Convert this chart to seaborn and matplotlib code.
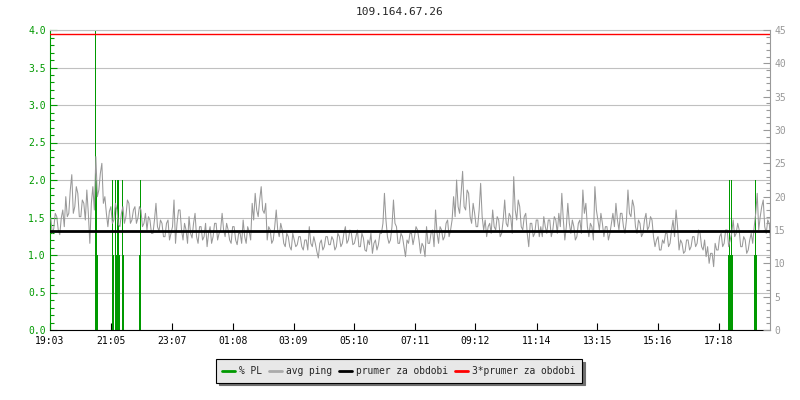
import numpy as np
import matplotlib
matplotlib.use("Agg")
import matplotlib.pyplot as plt
import seaborn as sns
from matplotlib.lines import Line2D
from matplotlib.ticker import MultipleLocator

# avg ping [ms], two readings per 6 minute slot starting 19:03
ping_a = [
    16.8, 15.2, 17.0, 14.3, 18.0, 20.0, 17.5, 23.3, 18.5, 20.5, 17.0, 19.0, 21.0, 13.0,
    21.5, 26.0, 21.0, 25.0, 20.0, 15.5, 18.5, 16.5, 18.0, 15.5, 18.5, 17.0, 19.0, 16.5,
    18.5, 16.8, 18.0, 16.0, 15.0, 16.5, 14.5, 19.0, 14.8, 16.0, 14.0, 16.5, 14.5,
    19.5, 16.0, 18.0, 13.5, 15.0, 17.0, 13.8, 17.5, 13.0, 15.5, 14.0, 12.5, 15.5, 14.0,
    16.0, 14.5, 17.5, 14.0, 15.0, 13.0, 15.5, 12.8, 14.5, 16.5, 13.0, 14.8, 19.0, 20.5,
    17.0, 21.5, 17.5, 13.5, 15.0, 13.5, 18.0, 14.0, 15.0, 12.5, 14.0, 12.0, 13.5,
    12.8, 14.0, 12.0, 13.5, 15.5, 12.5, 13.0, 10.8, 13.5, 12.5, 14.0, 12.8, 13.5, 12.5,
    14.0, 13.0, 15.5, 13.5, 14.5, 13.0, 15.0, 12.5, 13.8, 11.8, 12.8, 11.5, 13.5, 12.8,
    14.5, 20.5, 14.0, 13.5, 19.5, 15.5, 13.0, 14.0, 11.0, 13.0, 14.5, 14.0, 15.0,
    11.5, 12.5, 15.5, 13.0, 15.0, 18.0, 13.0, 15.0, 14.0, 16.5, 15.0, 20.0, 22.5, 17.5,
    23.8, 18.0, 20.5, 16.0, 17.5, 15.5, 22.0, 15.0, 14.0, 16.0, 18.0, 15.0, 16.5, 14.5,
    19.5, 15.5, 17.0, 23.0, 16.5, 18.5, 15.0, 17.5, 12.5, 16.0, 14.5, 16.5,
    15.5, 17.0, 14.5, 16.5, 15.0, 16.5, 17.5, 20.5, 13.5, 19.0, 14.5, 15.5, 14.0, 16.5,
    21.0, 19.0, 14.0, 15.5, 21.5, 16.5, 17.5, 14.0, 15.5, 14.5, 17.5, 19.0, 15.0, 17.5,
    14.5, 21.0, 17.0, 18.5, 14.5, 16.0, 14.5, 17.5, 15.5, 16.5, 12.5, 14.0, 12.0,
    13.0, 14.5, 13.0, 16.5, 18.0, 12.0, 13.0, 11.8, 13.5, 12.5, 14.0, 13.0, 14.5, 12.0,
    11.0, 10.0, 11.5, 13.0, 12.0, 14.5, 13.0, 15.0, 13.5, 16.5, 14.5, 15.0, 12.5, 13.5,
    12.0, 14.5, 15.5, 20.5, 17.0, 19.5, 14.5, 16.0,
]
ping_b = [
    14.5, 17.5, 15.0, 16.8, 15.5, 17.0, 21.0, 17.5, 21.5, 17.0, 19.5, 16.5, 17.5, 19.0,
    18.0, 20.0, 23.5, 19.0, 17.5, 17.8, 16.0, 19.0, 15.8, 17.5, 16.0, 19.5, 16.0, 18.0,
    16.0, 18.5, 15.5, 17.5, 17.0, 14.5, 16.5, 15.5, 16.5, 14.0, 16.0, 13.5, 15.5,
    13.0, 18.0, 15.0, 16.0, 13.0, 14.5, 16.0, 14.0, 15.5, 13.5, 16.0, 14.5, 13.0, 16.0,
    13.5, 15.0, 15.0, 16.0, 13.5, 15.5, 13.5, 14.5, 13.0, 14.0, 15.5, 13.5, 16.5, 18.0,
    19.5, 18.0, 19.0, 15.5, 13.0, 15.5, 15.0, 16.0, 13.0, 14.5, 12.5, 14.5, 12.5,
    14.0, 12.5, 13.5, 12.0, 13.0, 14.0, 11.8, 13.0, 12.0, 14.0, 12.8, 14.0, 12.0, 14.5,
    12.5, 14.5, 13.0, 15.0, 12.8, 14.0, 12.5, 14.5, 12.0, 13.5, 14.5, 13.0, 12.0, 14.5,
    16.0, 16.5, 13.0, 15.5, 16.0, 13.0, 14.5, 12.5, 13.5, 14.5, 12.8, 15.5, 13.5,
    13.0, 11.0, 13.0, 14.5, 12.5, 14.5, 15.5, 13.5, 16.0, 14.0, 16.5, 17.0, 18.5, 20.5,
    18.5, 21.0, 17.0, 19.0, 15.5, 18.0, 17.0, 16.5, 15.5, 14.5, 15.5, 17.0, 14.0, 16.5,
    16.0, 17.5, 14.5, 18.0, 19.5, 15.5, 17.0, 14.5, 16.0, 14.0, 16.5, 14.0,
    14.0, 15.5, 16.5, 14.0, 17.0, 14.5, 15.5, 16.5, 15.5, 16.0, 16.5, 13.5, 16.0, 14.5,
    17.5, 15.5, 16.0, 13.5, 18.0, 15.0, 16.0, 15.5, 13.5, 16.0, 15.5, 16.5, 17.5, 15.5,
    16.5, 17.5, 19.5, 15.5, 16.5, 14.0, 16.5, 15.0, 17.0, 14.0, 13.5, 12.0, 13.5,
    14.5, 12.5, 15.0, 14.0, 15.5, 13.5, 11.5, 13.5, 12.0, 14.0, 12.5, 15.0, 12.5, 13.5,
    12.5, 11.5, 9.5, 12.0, 14.0, 12.5, 15.0, 12.5, 14.5, 14.0, 16.0, 12.5, 14.0, 11.5,
    13.5, 13.0, 17.5, 15.0, 18.5, 15.5, 16.5, 13.0,
]

# packet loss [%], minutes after 19:03
pl_minute = [90, 92, 94, 124, 126, 130, 132, 134, 136, 138, 144, 146, 178, 180,
             1354, 1356, 1358, 1360, 1362, 1406, 1408, 1410]
pl_value = [4.0, 2.0, 1.0, 2.0, 1.0, 2.0, 1.0, 2.0, 2.0, 1.0, 2.0, 1.0, 1.0, 2.0,
            1.0, 2.0, 1.0, 2.0, 1.0, 1.0, 2.0, 1.0]

mean_ms = 14.8
mean3_ms = 44.4

tick_minutes = [0, 122, 244, 365, 486, 607, 728, 849, 971, 1092, 1213, 1335]
tick_labels = ["19:03", "21:05", "23:07", "01:08", "03:09", "05:10", "07:11",
               "09:12", "11:14", "13:15", "15:16", "17:18"]

GREEN = "#009900"
GRAY = "#999999"

sns.set_style("white")
plt.rcParams["font.family"] = ["DejaVu Sans Mono"]

fig = plt.figure(figsize=(8, 4), dpi=100)
ax = fig.add_axes([0.0625, 0.175, 0.9, 0.75])
ax2 = ax.twinx()

slot = np.arange(len(ping_a)) * 6
ping_t = np.column_stack([slot + 1.5, slot + 4.5]).ravel()
ping_ms = np.column_stack([ping_a, ping_b]).ravel()
total = 1437

# packet loss bars on the left axis
ax.bar(pl_minute, pl_value, width=2, color=GREEN, linewidth=0, align="edge",
       antialiased=False)

# ping on the right axis
sns.lineplot(x=ping_t, y=ping_ms, ax=ax2, color=GRAY, lw=0.75)
sns.lineplot(x=[0, total], y=[mean_ms, mean_ms], ax=ax2, color="black", lw=2)
sns.lineplot(x=[0, total], y=[mean3_ms, mean3_ms], ax=ax2, color="red", lw=1)

ax.set_xlim(0, total)
ax.set_ylim(0, 4)
ax2.set_ylim(0, 45)

ax.yaxis.set_major_locator(MultipleLocator(0.5))
ax.yaxis.set_minor_locator(MultipleLocator(0.1))
ax.yaxis.set_major_formatter(matplotlib.ticker.FormatStrFormatter("%.1f"))
ax2.yaxis.set_major_locator(MultipleLocator(5))
ax2.yaxis.set_minor_locator(MultipleLocator(1))
ax.set_xticks(tick_minutes)
ax.set_xticklabels(tick_labels)

ax.yaxis.grid(True, color="#c0c0c0", lw=0.8)
ax.xaxis.grid(False)
ax.set_axisbelow(True)

ax.tick_params(axis="y", which="major", direction="in", colors=GREEN, length=5,
               width=0.8, labelsize=7, pad=3, left=True)
ax.tick_params(axis="y", which="minor", direction="in", colors=GREEN, length=3,
               width=0.8, left=True)
ax.tick_params(axis="x", direction="in", colors="black", length=5, width=0.8,
               labelsize=7, pad=4, bottom=True)
ax2.tick_params(axis="y", which="major", direction="in", colors=GRAY, length=5,
                width=0.8, labelsize=7, pad=3, right=True)
ax2.tick_params(axis="y", which="minor", direction="in", colors=GRAY, length=3,
                width=0.8, right=True)

ax.spines["left"].set_color(GREEN)
ax.spines["bottom"].set_color("black")
ax.spines["top"].set_color("#c0c0c0")
ax.spines["right"].set_visible(False)
for s in ["left", "top", "bottom"]:
    ax2.spines[s].set_visible(False)
ax2.spines["right"].set_color(GRAY)
for a in (ax, ax2):
    for s in a.spines.values():
        s.set_linewidth(0.8)
ax.set_xlabel("")
ax.set_ylabel("")
ax2.set_xlabel("")
ax2.set_ylabel("")

fig.text(0.5, 1 - 12 / 400, "109.164.67.26", ha="center", va="center", fontsize=8)

handles = [Line2D([], [], color=GREEN, lw=2), Line2D([], [], color="#aaaaaa", lw=2),
           Line2D([], [], color="black", lw=2), Line2D([], [], color="red", lw=2)]
labels = ["% PL", "avg ping", "prumer za obdobi", "3*prumer za obdobi"]
leg = fig.legend(handles, labels, loc="center", bbox_to_anchor=(0.4985, 0.0725),
                 ncol=4, fontsize=6.9, frameon=True, fancybox=False,
                 shadow={"color": "#707070", "alpha": 1}, edgecolor="black",
                 facecolor="#e8e8e8", framealpha=1, handlelength=1.3,
                 handletextpad=0.4, columnspacing=0.8, borderpad=0.7)
leg.get_frame().set_linewidth(0.8)

fig.savefig("out.png", dpi=100)
